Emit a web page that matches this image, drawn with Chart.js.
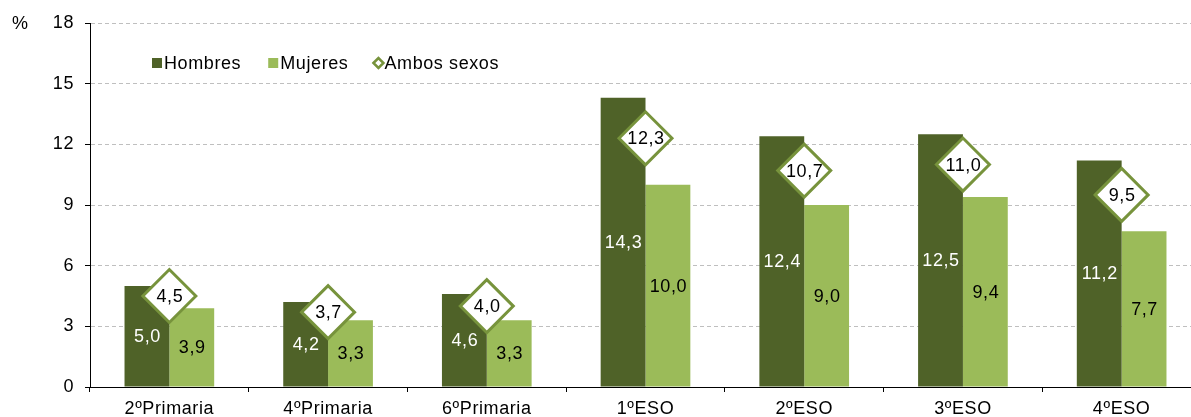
<!DOCTYPE html>
<html>
<head>
<meta charset="utf-8">
<script src="https://cdn.jsdelivr.net/npm/chart.js@4"></script>
<style>
  html, body { margin: 0; padding: 0; background: #fff; overflow: hidden; }
  #wrap { position: relative; width: 1201px; height: 417px; }
</style>
</head>
<body>
<div id="wrap"><canvas id="c"></canvas></div>
<script>
const categories = ['2ºPrimaria', '4ºPrimaria', '6ºPrimaria', '1ºESO', '2ºESO', '3ºESO', '4ºESO'];
const hombres = [5.0, 4.2, 4.6, 14.3, 12.4, 12.5, 11.2];
const mujeres = [3.9, 3.3, 3.3, 10.0, 9.0, 9.4, 7.7];
const ambos = [4.5, 3.7, 4.0, 12.3, 10.7, 11.0, 9.5];
const seriesNames = ['Hombres', 'Mujeres', 'Ambos sexos'];
const yTicks = [0, 3, 6, 9, 12, 15, 18];
const unitLabel = '%';

const DARK = '#4F6228';
const LIGHT = '#9BBB59';
const DIAMOND = '#77933C';
const FONT = '"Liberation Sans", Arial, sans-serif';
const FSIZE = 18;
const SPACING = '0.6px';

const fmt = v => v.toFixed(1).replace('.', ',');

const spacingPlugin = {
  id: 'spacing',
  beforeDraw(chart) { chart.ctx.letterSpacing = SPACING; }
};

const labelPlugin = {
  id: 'labels',
  afterDatasetsDraw(chart) {
    const ctx = chart.ctx;
    ctx.save();
    ctx.letterSpacing = SPACING;
    ctx.font = FSIZE + 'px ' + FONT;
    ctx.textAlign = 'center';
    ctx.textBaseline = 'middle';
    chart.data.datasets.forEach((ds, i) => {
      const meta = chart.getDatasetMeta(i);
      meta.data.forEach((el, j) => {
        const v = ds.data[j];
        if (ds.type === 'line') {
          ctx.fillStyle = '#000';
          ctx.fillText(fmt(v), el.x + 0.5, el.y + 1);
        } else {
          ctx.fillStyle = i === 0 ? '#fff' : '#000';
          ctx.fillText(fmt(v), el.x + 0.5, (el.y + el.base) / 2 + 1);
        }
      });
    });
    ctx.restore();
  }
};

const legendPlugin = {
  id: 'customLegend',
  afterDraw(chart) {
    const ctx = chart.ctx;
    ctx.save();
    ctx.letterSpacing = SPACING;
    ctx.font = FSIZE + 'px ' + FONT;
    ctx.textBaseline = 'middle';
    ctx.textAlign = 'left';
    let x = 152;
    const y = 63;
    const colors = [DARK, LIGHT, null];
    const gaps = [27, 24, 0];
    seriesNames.forEach((name, i) => {
      if (colors[i]) {
        ctx.fillStyle = colors[i];
        ctx.fillRect(x, y - 5, 10, 10);
      } else {
        ctx.beginPath();
        ctx.moveTo(x + 1, y);
        ctx.lineTo(x + 6, y - 5);
        ctx.lineTo(x + 11, y);
        ctx.lineTo(x + 6, y + 5);
        ctx.closePath();
        ctx.fillStyle = '#fff';
        ctx.fill();
        ctx.strokeStyle = DIAMOND;
        ctx.lineWidth = 2.5;
        ctx.stroke();
      }
      x += 12;
      ctx.fillStyle = '#000';
      ctx.fillText(name, x, y + 1);
      x += ctx.measureText(name).width + gaps[i];
    });
    ctx.fillText(unitLabel, 12, 24);
    ctx.restore();
  }
};

new Chart(document.getElementById('c'), {
  data: {
    labels: categories,
    datasets: [
      { type: 'bar', label: seriesNames[0], data: hombres, backgroundColor: DARK, order: 2,
        barPercentage: 1.0, categoryPercentage: 0.565 },
      { type: 'bar', label: seriesNames[1], data: mujeres, backgroundColor: LIGHT, order: 2,
        barPercentage: 1.0, categoryPercentage: 0.565 },
      { type: 'line', label: seriesNames[2], data: ambos, showLine: false, order: 0, clip: false,
        pointStyle: 'rectRot', pointRadius: 26.5, pointHoverRadius: 26.5,
        pointBackgroundColor: '#fff', pointBorderColor: DIAMOND, pointBorderWidth: 3 }
    ]
  },
  options: {
    responsive: true,
    maintainAspectRatio: false,
    animation: false,
    events: [],
    layout: { autoPadding: false, padding: { top: 23, right: 0, left: 0, bottom: 0 } },
    plugins: { legend: { display: false }, tooltip: { enabled: false } },
    scales: {
      x: {
        offset: true,
        grid: { display: true, drawOnChartArea: false, drawTicks: true, tickLength: 5,
                tickColor: '#000', offset: true },
        border: { display: true, color: '#000', width: 1 },
        ticks: { color: '#000', font: { family: FONT, size: FSIZE }, padding: 6, maxRotation: 0 },
        afterFit(s) { s.height = 30; }
      },
      y: {
        min: 0, max: 18,
        afterBuildTicks(s) { s.ticks = yTicks.map(v => ({ value: v })); },
        grid: {
          color: ctx => (ctx.tick && ctx.tick.value === 0) ? 'rgba(0,0,0,0)' : '#BFBFBF',
          lineWidth: 1, drawTicks: true, tickLength: 5, tickColor: '#000', tickBorderDash: []
        },
        border: { display: true, color: '#000', width: 1, dash: [4, 3] },
        ticks: { color: '#000', font: { family: FONT, size: FSIZE }, padding: 11 },
        afterFit(s) { s.width = 90; }
      }
    }
  },
  plugins: [spacingPlugin, labelPlugin, legendPlugin]
});
</script>
</body>
</html>
